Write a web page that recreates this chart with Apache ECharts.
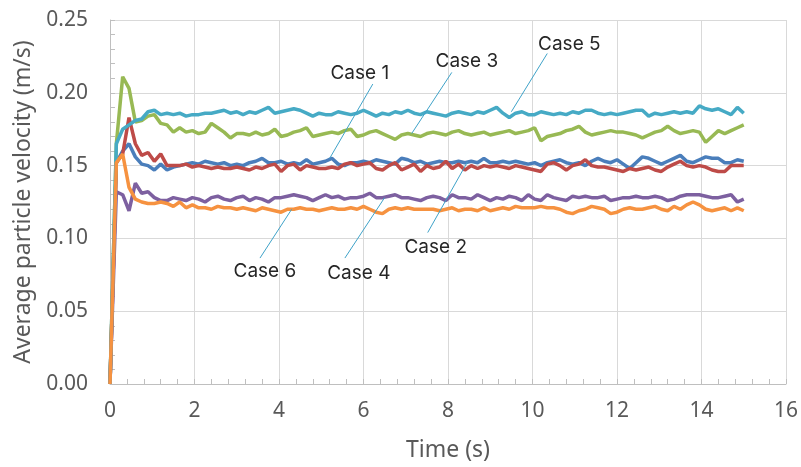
<!DOCTYPE html>
<html>
<head>
<meta charset="utf-8">
<script src="https://cdn.jsdelivr.net/npm/echarts@6/dist/echarts.min.js"></script>
<style>
  html, body { margin: 0; padding: 0; background: #fff; }
  #chart { width: 801px; height: 467px; }
</style>
</head>
<body>
<div id="chart"></div>
<script>
// sampling grid: one value every 0.15 s, 0 .. 15 s
var times = [];
for (var i = 0; i <= 100; i++) times.push(+(i * 0.15).toFixed(2));

var case1 = [0,0.152,0.160,0.165,0.156,0.151,0.150,0.147,0.151,0.147,
  0.149,0.150,0.151,0.152,0.151,0.153,0.152,0.151,0.152,0.150,
  0.151,0.150,0.152,0.153,0.155,0.152,0.152,0.153,0.151,0.152,
  0.151,0.154,0.151,0.152,0.153,0.155,0.151,0.150,0.152,0.152,
  0.153,0.152,0.154,0.153,0.152,0.151,0.155,0.154,0.152,0.153,
  0.151,0.152,0.153,0.152,0.152,0.153,0.152,0.153,0.152,0.155,
  0.152,0.152,0.153,0.152,0.153,0.152,0.151,0.152,0.150,0.152,
  0.153,0.154,0.152,0.151,0.152,0.150,0.153,0.155,0.153,0.152,
  0.154,0.151,0.148,0.152,0.156,0.155,0.153,0.151,0.153,0.155,
  0.157,0.153,0.152,0.154,0.156,0.155,0.155,0.152,0.152,0.154,0.153];

var case2 = [0,0.152,0.158,0.183,0.165,0.157,0.159,0.153,0.158,0.150,
  0.150,0.150,0.151,0.149,0.150,0.149,0.148,0.149,0.148,0.148,
  0.149,0.148,0.147,0.149,0.148,0.150,0.151,0.146,0.150,0.151,
  0.147,0.150,0.149,0.148,0.148,0.149,0.148,0.151,0.152,0.150,
  0.151,0.152,0.148,0.147,0.150,0.152,0.147,0.149,0.151,0.146,
  0.150,0.148,0.149,0.153,0.148,0.151,0.147,0.150,0.148,0.150,
  0.149,0.150,0.149,0.148,0.150,0.149,0.148,0.147,0.146,0.151,
  0.152,0.150,0.147,0.150,0.151,0.154,0.150,0.149,0.149,0.148,
  0.147,0.146,0.148,0.147,0.148,0.149,0.147,0.146,0.149,0.151,
  0.153,0.150,0.149,0.150,0.149,0.147,0.146,0.146,0.150,0.150,0.150];

var case3 = [0,0.165,0.211,0.203,0.180,0.181,0.184,0.185,0.179,0.178,
  0.173,0.176,0.173,0.174,0.172,0.173,0.179,0.176,0.173,0.169,
  0.172,0.172,0.171,0.173,0.171,0.172,0.175,0.170,0.171,0.173,
  0.174,0.176,0.170,0.171,0.172,0.173,0.172,0.174,0.175,0.170,
  0.171,0.173,0.174,0.172,0.170,0.168,0.171,0.172,0.171,0.170,
  0.172,0.173,0.172,0.171,0.173,0.174,0.172,0.171,0.172,0.173,
  0.171,0.172,0.173,0.174,0.172,0.173,0.174,0.176,0.167,0.170,
  0.171,0.172,0.174,0.175,0.177,0.173,0.171,0.172,0.173,0.174,
  0.173,0.173,0.172,0.171,0.169,0.171,0.173,0.174,0.177,0.174,
  0.172,0.173,0.174,0.173,0.166,0.170,0.174,0.172,0.174,0.176,0.178];

var case4 = [0,0.132,0.130,0.119,0.138,0.131,0.132,0.128,0.126,0.126,
  0.128,0.127,0.126,0.128,0.127,0.125,0.128,0.129,0.127,0.126,
  0.128,0.129,0.126,0.128,0.127,0.125,0.128,0.128,0.129,0.130,
  0.129,0.128,0.126,0.128,0.130,0.128,0.129,0.127,0.128,0.128,
  0.129,0.131,0.128,0.128,0.129,0.130,0.128,0.128,0.127,0.126,
  0.128,0.129,0.128,0.126,0.130,0.128,0.128,0.127,0.130,0.128,
  0.126,0.128,0.127,0.129,0.128,0.126,0.130,0.127,0.126,0.130,
  0.128,0.127,0.126,0.129,0.128,0.129,0.128,0.128,0.129,0.126,
  0.127,0.128,0.128,0.129,0.128,0.128,0.129,0.128,0.126,0.127,
  0.129,0.130,0.130,0.130,0.129,0.128,0.128,0.129,0.130,0.125,0.127];

var case5 = [0,0.165,0.175,0.178,0.181,0.182,0.187,0.188,0.185,0.186,
  0.185,0.186,0.184,0.185,0.185,0.186,0.186,0.187,0.188,0.186,
  0.187,0.185,0.187,0.186,0.188,0.190,0.186,0.187,0.188,0.189,
  0.188,0.186,0.184,0.186,0.185,0.185,0.187,0.186,0.185,0.186,
  0.188,0.186,0.184,0.186,0.185,0.187,0.186,0.188,0.186,0.185,
  0.187,0.186,0.185,0.184,0.186,0.187,0.186,0.185,0.187,0.186,
  0.188,0.190,0.186,0.183,0.186,0.187,0.185,0.185,0.187,0.186,
  0.185,0.186,0.185,0.187,0.186,0.188,0.188,0.186,0.185,0.186,
  0.185,0.186,0.187,0.188,0.188,0.184,0.186,0.185,0.186,0.187,
  0.186,0.187,0.186,0.191,0.189,0.188,0.189,0.187,0.185,0.190,0.186];

var case6 = [0,0.152,0.158,0.135,0.127,0.125,0.124,0.124,0.125,0.124,
  0.122,0.125,0.121,0.123,0.121,0.121,0.120,0.122,0.121,0.121,
  0.120,0.121,0.120,0.119,0.121,0.120,0.119,0.118,0.120,0.120,
  0.121,0.120,0.120,0.119,0.120,0.121,0.120,0.120,0.121,0.120,
  0.122,0.120,0.118,0.117,0.120,0.121,0.120,0.121,0.120,0.120,
  0.120,0.120,0.119,0.120,0.121,0.119,0.120,0.120,0.119,0.121,
  0.119,0.120,0.121,0.120,0.122,0.121,0.121,0.121,0.122,0.121,
  0.121,0.120,0.118,0.117,0.119,0.120,0.122,0.121,0.120,0.117,
  0.118,0.120,0.121,0.120,0.120,0.121,0.122,0.120,0.119,0.122,
  0.120,0.123,0.125,0.123,0.120,0.119,0.120,0.121,0.119,0.121,0.119];

var seriesNames = ['Case 1', 'Case 2', 'Case 3', 'Case 4', 'Case 5', 'Case 6'];
var seriesValues = [case1, case2, case3, case4, case5, case6];
var seriesColors = ['#4a7ebb', '#be4b48', '#98b954', '#7d60a0', '#46aac5', '#f69240'];

// callout: [label end, point on the curve] in data coordinates, plus text nudge
var callouts = {
  'Case 1': { line: [[6.22, 0.206], [5.20, 0.155]], offset: [-14, 0] },
  'Case 2': { line: [[7.52, 0.104], [8.46, 0.1525]], offset: [9, 3] },
  'Case 3': { line: [[8.09, 0.214], [7.14, 0.172]], offset: [14, 0] },
  'Case 4': { line: [[5.56, 0.0865], [6.50, 0.128]], offset: [15, 4] },
  'Case 5': { line: [[10.35, 0.227], [9.50, 0.187]], offset: [21, 2] },
  'Case 6': { line: [[3.55, 0.0865], [4.30, 0.120]], offset: [6, 2] }
};

function pairs(vals) {
  var out = [];
  for (var k = 0; k < vals.length; k++) out.push([times[k], vals[k]]);
  return out;
}

var series = [];
for (var s = 0; s < seriesNames.length; s++) {
  var c = callouts[seriesNames[s]];
  series.push({
    name: seriesNames[s],
    type: 'line',
    data: pairs(seriesValues[s]),
    showSymbol: false,
    symbol: 'none',
    lineStyle: { color: seriesColors[s], width: 3.5 },
    itemStyle: { color: seriesColors[s] },
    markLine: {
      silent: true,
      symbol: ['none', 'none'],
      animation: false,
      lineStyle: { color: '#3fa3c9', width: 1, type: 'solid' },
      label: {
        show: true,
        position: 'start',
        distance: 2,
        offset: c.offset,
        formatter: seriesNames[s],
        fontFamily: 'Inter',
        fontSize: 19,
        color: '#262626'
      },
      emphasis: { disabled: true },
      data: [[{ coord: c.line[0] }, { coord: c.line[1] }]]
    }
  });
}

var chart = echarts.init(document.getElementById('chart'));
chart.setOption({
  animation: false,
  backgroundColor: '#fff',
  textStyle: { fontFamily: 'Noto Sans' },
  grid: { left: 110, right: 14, top: 20, bottom: 83 },
  xAxis: {
    type: 'value',
    min: 0,
    max: 16,
    interval: 2,
    name: 'Time (s)',
    nameLocation: 'middle',
    nameGap: 55,
    nameTextStyle: { fontSize: 23, color: '#595959' },
    axisLine: { lineStyle: { color: '#bfbfbf', width: 1 } },
    axisTick: { show: true, inside: true, length: 5, lineStyle: { color: '#bfbfbf' } },
    minorTick: { show: true, splitNumber: 5, length: 5, lineStyle: { color: '#bfbfbf' } },
    axisLabel: { fontSize: 21, color: '#595959', margin: 17 },
    splitLine: { show: true, lineStyle: { color: '#d9d9d9', width: 1 } }
  },
  yAxis: {
    type: 'value',
    min: 0,
    max: 0.25,
    interval: 0.05,
    name: 'Average particle velocity (m/s)',
    nameLocation: 'middle',
    nameGap: 74,
    nameTextStyle: { fontSize: 23, color: '#595959' },
    axisLine: { show: true, lineStyle: { color: '#bfbfbf', width: 1 } },
    axisTick: { show: true, inside: true, length: 5, lineStyle: { color: '#bfbfbf' } },
    minorTick: { show: true, splitNumber: 5, length: 5, lineStyle: { color: '#bfbfbf' } },
    axisLabel: {
      fontSize: 21,
      color: '#595959',
      margin: 22,
      formatter: function (v) { return v.toFixed(2); }
    },
    splitLine: { show: true, lineStyle: { color: '#d9d9d9', width: 1 } }
  },
  series: series
});
</script>
</body>
</html>
